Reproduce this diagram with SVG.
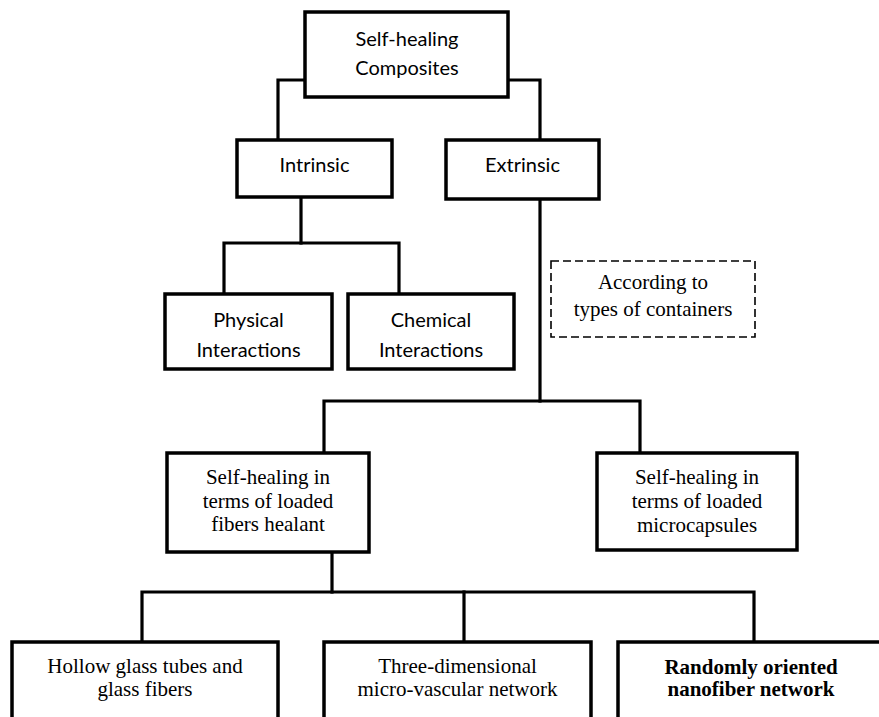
<svg xmlns="http://www.w3.org/2000/svg" width="879" height="717" viewBox="0 0 879 717">
<style>
.box{fill:#fff;stroke:#000;stroke-width:3.5}
.dash{fill:#fff;stroke:#000;stroke-width:1.6;stroke-dasharray:8 4}
.conn{fill:none;stroke:#000;stroke-width:3.2;stroke-linejoin:miter;stroke-linecap:square}
.sans{font-family:Lato,"Liberation Sans",sans-serif;font-size:20px;text-anchor:middle;fill:#000}
.serif{font-family:"Liberation Serif","Times New Roman",serif;font-size:21px;text-anchor:middle;fill:#000}
.bold{font-weight:bold}
</style>
<rect width="879" height="717" fill="#fff"/>
<g id="connectors">
<polyline class="conn" points="278,140 278,80 305,80"/>
<polyline class="conn" points="508,80 540,80 540,140"/>
<line class="conn" x1="301" y1="199" x2="301" y2="243"/>
<polyline class="conn" points="224,294 224,243 399,243 399,294"/>
<line class="conn" x1="540" y1="200" x2="540" y2="401"/>
<polyline class="conn" points="324,453 324,401 640,401 640,453"/>
<line class="conn" x1="332" y1="552" x2="332" y2="592"/>
<polyline class="conn" points="142,642 142,592 754,592 754,642"/>
<line class="conn" x1="464" y1="592" x2="464" y2="642"/>
</g>
<g id="root">
<rect class="box" x="305" y="12" width="203" height="85"/>
<text class="sans" x="407" y="46">Self-healing</text>
<text class="sans" x="407" y="75">Composites</text>
</g>
<g id="intrinsic">
<rect class="box" x="237" y="140" width="155" height="57"/>
<text class="sans" x="314.5" y="172">Intrinsic</text>
</g>
<g id="extrinsic">
<rect class="box" x="446" y="140" width="153" height="59"/>
<text class="sans" x="522.5" y="172">Extrinsic</text>
</g>
<g id="physical">
<rect class="box" x="165" y="294" width="167" height="75"/>
<text class="sans" x="248.5" y="327">Physical</text>
<text class="sans" x="248.5" y="357">Interactions</text>
</g>
<g id="chemical">
<rect class="box" x="348" y="294" width="166" height="75"/>
<text class="sans" x="431" y="327">Chemical</text>
<text class="sans" x="431" y="357">Interactions</text>
</g>
<g id="containers-note">
<rect class="dash" x="551" y="261" width="204" height="76"/>
<text class="serif" x="653" y="289">According to</text>
<text class="serif" x="653" y="316">types of containers</text>
</g>
<g id="fibers">
<rect class="box" x="167" y="453" width="202" height="99"/>
<text class="serif" x="268" y="484">Self-healing in</text>
<text class="serif" x="268" y="508">terms of loaded</text>
<text class="serif" x="268" y="531">fibers healant</text>
</g>
<g id="microcapsules">
<rect class="box" x="597" y="453" width="200" height="97"/>
<text class="serif" x="697" y="484">Self-healing in</text>
<text class="serif" x="697" y="508">terms of loaded</text>
<text class="serif" x="697" y="532">microcapsules</text>
</g>
<g id="hollow">
<rect class="box" x="12" y="642" width="266" height="90"/>
<text class="serif" x="145" y="673">Hollow glass tubes and</text>
<text class="serif" x="145" y="696">glass fibers</text>
</g>
<g id="vascular">
<rect class="box" x="324" y="642" width="267" height="90"/>
<text class="serif" x="457.5" y="673">Three-dimensional</text>
<text class="serif" x="457.5" y="696">micro-vascular network</text>
</g>
<g id="nanofiber">
<rect class="box" x="618" y="642" width="268" height="90"/>
<text class="serif bold" x="751" y="674">Randomly oriented</text>
<text class="serif bold" x="751" y="696">nanofiber network</text>
</g>
</svg>
